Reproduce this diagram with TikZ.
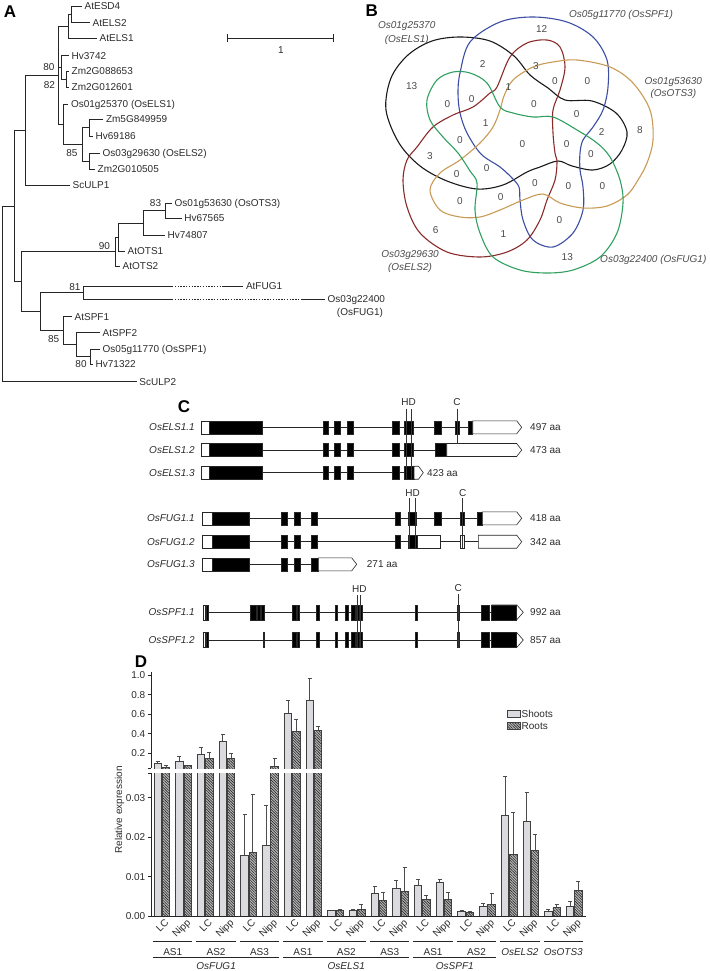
\documentclass[tikz,border=0pt]{standalone}
\usepackage{fontspec}
\setmainfont{Liberation Sans}
\usetikzlibrary{patterns.meta}
\definecolor{txt}{HTML}{2B2B2B}
\definecolor{vlab}{HTML}{4A4A4A}
\definecolor{vblue}{HTML}{3B4EA3}
\definecolor{vred}{HTML}{8A2A2A}
\definecolor{vorange}{HTML}{C99A55}
\definecolor{vgreen}{HTML}{2FA060}
\definecolor{shootc}{HTML}{DADADF}
\definecolor{rootc}{HTML}{B8B8B8}
\newcommand\tleaf[4]{\coordinate (#1) at (#2,#3); \node[anchor=west,xshift=2.5pt] (#1t) at (#1) {#4};}
\def\hh{6.5}
\newcommand\gwb[3]{\draw[gbox,fill=white] (#1,#3-\hh) rectangle (#2,#3+\hh);}
\newcommand\gbb[3]{\draw[gbox,fill=black] (#1,#3-\hh) rectangle (#2,#3+\hh);}
\newcommand\gar[4]{\draw[gbox,fill=white] (#1,#4-\hh) -- (#2,#4-\hh) -- (#3,#4) -- (#2,#4+\hh) -- (#1,#4+\hh) -- cycle;}
\newcommand\pbar[5]{%
\pgfmathsetmacro\pbXa{154+21.7*#1}%
\pgfmathsetmacro\pbXb{\pbXa+7.4}%
\pgfmathsetmacro\pbXc{\pbXa+8.3}%
\pgfmathsetmacro\pbXd{\pbXa+15.7}%
\pgfmathsetmacro\pbXm{\pbXa+3.7}%
\pgfmathsetmacro\pbXn{\pbXa+12}%
\draw[ebar] (\pbXm,#2) -- (\pbXm,#3) (\pbXm-2,#3) -- (\pbXm+2,#3);
\draw[sbar] (\pbXa,916) rectangle (\pbXb,#2);
\draw[ebar] (\pbXn,#4) -- (\pbXn,#5) (\pbXn-2,#5) -- (\pbXn+2,#5);
\fill[rootc] (\pbXc,916) rectangle (\pbXd,#4);
\fill[pattern={Lines[angle=-45,distance=1.9pt,line width=0.6pt]},pattern color=black!85] (\pbXc,916) rectangle (\pbXd,#4);
\draw[sbar,fill=none] (\pbXc,916) rectangle (\pbXd,#4);
}
\begin{document}
\begin{tikzpicture}[x=1pt,y=-1pt,
  every node/.style={font=\fontsize{10}{12}\selectfont,text=txt,inner sep=0pt,text height=7.2pt,text depth=0pt},
  br/.style={draw=black!85,line width=0.8pt},
  dotbr/.style={draw=black!85,line width=0.8pt,dash pattern=on 1.4pt off 1.4pt},
  panel/.style={font=\fontsize{17}{18}\selectfont\bfseries,text=black,text height=12pt},
  venn/.style={line width=1.1pt},
  vnum/.style={text=vlab},
  vname/.style={text=vlab,font=\fontsize{10}{12}\selectfont\itshape},
  intron/.style={draw=black!85,line width=0.7pt},
  gbox/.style={draw=black!85,line width=0.6pt},
  gname/.style={anchor=east,font=\fontsize{10}{12}\selectfont\itshape},
  siteline/.style={draw=black!80,line width=0.7pt},
  sbar/.style={draw=black!75,line width=0.7pt,fill=shootc},
  ebar/.style={draw=black!70,line width=0.8pt},
  axisl/.style={draw=black!85,line width=0.8pt}]
\useasboundingbox (0,0) rectangle (709,971);

% ================= Panel A =================
\node[panel] (pA) at (10,12) {A};
\coordinate (nESD) at (71.7,14.3);
\coordinate (nAt) at (68.3,26.3);
\coordinate (nZm) at (66.7,79.2);
\coordinate (nHv) at (61.7,67.5);
\coordinate (nP1) at (89.3,127.7);
\coordinate (nP2) at (89.3,161.3);
\coordinate (nLow) at (82.7,144.5);
\coordinate (nELS1) at (63.3,124.4);
\coordinate (nMono) at (58.3,75.4);
\coordinate (nScU1) at (25,130.2);
\coordinate (nOTSa) at (165.7,210.8);
\coordinate (nOTSb) at (143.3,222.9);
\coordinate (nOTSc) at (118.3,237);
\coordinate (nOTS) at (115,251.5);
\coordinate (nFUG) at (83.3,292.7);
\coordinate (nSPFc) at (90.7,356.8);
\coordinate (nSPFb) at (76.7,344.8);
\coordinate (nSPF) at (63.3,330.8);
\coordinate (nFS) at (40,311.7);
\coordinate (nOF) at (21.7,281.6);
\coordinate (nBig) at (14,205.9);
\coordinate (nRoot) at (2.7,293.8);

\tleaf{AtESD4}{82}{6}{AtESD4}
\tleaf{AtELS2}{90}{22.7}{AtELS2}
\tleaf{AtELS1}{97}{38.3}{AtELS1}
\tleaf{Hv3742}{69}{55.7}{Hv3742}
\tleaf{ZmA}{69}{71}{Zm2G088653}
\tleaf{ZmB}{69}{87.3}{Zm2G012601}
\tleaf{LOsELS1}{68.3}{104.3}{Os01g25370 (OsELS1)}
\tleaf{ZmC}{103.3}{119.3}{Zm5G849959}
\tleaf{Hv69186}{93}{136}{Hv69186}
\tleaf{LOsELS2}{100}{153.3}{Os03g29630 (OsELS2)}
\tleaf{ZmD}{95}{169.3}{Zm2G010505}
\tleaf{ScULP1}{70}{185}{ScULP1}
\tleaf{LOsOTS3}{172}{203.3}{Os01g53630 (OsOTS3)}
\tleaf{Hv67565}{181.7}{218.3}{Hv67565}
\tleaf{Hv74807}{165}{235}{Hv74807}
\tleaf{AtOTS1}{125}{251}{AtOTS1}
\tleaf{AtOTS2}{120}{266}{AtOTS2}
\tleaf{AtFUG1}{243.3}{286}{AtFUG1}
\tleaf{LOsFUG1}{325}{299.3}{Os03g22400}
\node (LOsFUG1b) at (360,311.7) {(OsFUG1)};
\tleaf{AtSPF1}{72}{316.7}{AtSPF1}
\tleaf{AtSPF2}{100}{332.7}{AtSPF2}
\tleaf{LOsSPF1}{100}{349.3}{Os05g11770 (OsSPF1)}
\tleaf{Hv71322}{93}{364.3}{Hv71322}
\tleaf{ScULP2}{136.7}{381.7}{ScULP2}
\coordinate (fA1) at (172,286);
\coordinate (fA2) at (222,286);
\coordinate (fB1) at (172,299.3);
\coordinate (fB2) at (301.7,299.3);

\foreach \p/\c in {nESD/AtESD4,nESD/AtELS2,nAt/nESD,nAt/AtELS1,nZm/ZmA,nZm/ZmB,
  nHv/Hv3742,nHv/nZm,nP1/ZmC,nP1/Hv69186,nP2/LOsELS2,nP2/ZmD,nLow/nP1,nLow/nP2,
  nELS1/LOsELS1,nELS1/nLow,nMono/nAt,nMono/nHv,nMono/nELS1,nScU1/nMono,nScU1/ScULP1,
  nOTSa/LOsOTS3,nOTSa/Hv67565,nOTSb/nOTSa,nOTSb/Hv74807,nOTSc/nOTSb,nOTSc/AtOTS1,
  nOTS/nOTSc,nOTS/AtOTS2,nFUG/fA1,nFUG/fB1,nSPFc/LOsSPF1,nSPFc/Hv71322,
  nSPFb/AtSPF2,nSPFb/nSPFc,nSPF/AtSPF1,nSPF/nSPFb,nFS/nFUG,nFS/nSPF,
  nOF/nOTS,nOF/nFS,nBig/nScU1,nBig/nOF,nRoot/nBig,nRoot/ScULP2}
  {\draw[br] (\p) |- (\c);}
\draw[dotbr] (fA1) -- (fA2);
\draw[br] (fA2) -- (AtFUG1);
\draw[dotbr] (fB1) -- (fB2);
\draw[br] (fB2) -- (LOsFUG1);

\node (b80a) at (49,66.7) {80};
\node (b82) at (49.5,85) {82};
\node (b85a) at (72,153.3) {85};
\node (b83) at (155.5,203.3) {83};
\node (b90) at (104.5,246) {90};
\node (b81) at (75,286.5) {81};
\node (b85b) at (53.7,339) {85};
\node (b80b) at (81,364.3) {80};

\coordinate (sb1) at (227,38.3);
\coordinate (sb2) at (333,38.3);
\draw[br] (sb1) -- (sb2);
\draw[br] ([yshift=-4pt]sb1) -- ([yshift=4pt]sb1);
\draw[br] ([yshift=-4pt]sb2) -- ([yshift=4pt]sb2);
\node (sbl) at (281,50) {1};

% ================= Panel B =================
\node[panel] (pB) at (371.7,10.7) {B};
\draw[venn,black!90] plot[smooth cycle,tension=0.55] coordinates {
 (386,110) (391,78) (408,55) (432,41) (460,37) (490,41) (514,56) (530,75) (548,88)
 (565,100) (592,101) (616,113) (627,132) (622,150) (610,164) (593,170) (572,166)
 (558,161) (540,167) (527,172) (503,185) (477,189) (447,181) (420,166) (399,143)};
\draw[venn,vblue] plot[smooth cycle,tension=0.55] coordinates {
 (460,73) (470,42) (500,22) (533,17) (567,22) (593,37) (607,60) (608,87) (603,110)
 (593,127) (583,140) (580,153) (580,170) (583,187) (583,210) (573,233) (553,247)
 (533,240) (523,220) (520,200) (519,187) (512,178) (500,167) (481,154) (467,133)
 (460,113) (458,93)};
\draw[venn,vred] plot[smooth cycle,tension=0.55] coordinates {
 (497,87) (510,57) (527,43) (547,40) (560,47) (565,67) (560,90) (553,110) (553,133)
 (555,153) (557,162) (555,180) (547,200) (540,220) (527,240) (507,252) (480,257)
 (447,252) (420,233) (407,207) (403,180) (407,160) (417,147) (433,127) (453,115)
 (473,107) (490,93)};
\draw[venn,vorange] plot[smooth cycle,tension=0.55] coordinates {
 (553,62) (577,60) (610,67) (633,83) (650,110) (653,140) (647,163) (638,180)
 (627,195) (607,206) (583,208) (560,203) (543,194) (523,200) (500,210) (480,217)
 (460,217) (440,210) (430,190) (440,173) (460,160) (480,143) (493,127) (500,110)
 (504,96) (513,80) (533,67)};
\draw[venn,vgreen] plot[smooth cycle,tension=0.55] coordinates {
 (427,100) (437,80) (453,72) (470,73) (487,83) (500,107) (513,113) (533,117)
 (553,117) (577,130) (597,143) (610,157) (620,180) (623,203) (617,233) (600,257)
 (573,270) (547,273) (520,270) (493,257) (480,233) (475,210) (477,183) (470,171)
 (458,153) (443,137) (430,120)};

\node[vname] (vEa) at (406.7,25) {Os01g25370};
\node[vname] (vEb) at (406.7,39) {(OsELS1)};
\node[vname] (vS) at (621,14) {Os05g11770 (OsSPF1)};
\node[vname] (vOa) at (673.3,80.7) {Os01g53630};
\node[vname] (vOb) at (673.3,93.3) {(OsOTS3)};
\node[vname] (vE2a) at (410,254) {Os03g29630};
\node[vname] (vE2b) at (410,266.7) {(OsELS2)};
\node[vname] (vF) at (653.3,259) {Os03g22400 (OsFUG1)};

\foreach \x/\y/\t [count=\k] in {541.7/29.3/12, 482.7/64.3/2, 536/65.7/3, 411.7/86/13,
  508.3/86.7/1, 555/81/0, 587.3/81/0, 447.3/104.3/0, 471.7/98.7/0, 534/104.3/0,
  576.7/114.3/0, 640/130/8, 601.7/132.3/2, 485.7/123.3/1, 460/140/0, 522.3/144/0,
  566.7/144/0, 430/155.7/3, 591/154.3/0, 486.7/168.3/0, 456.7/174/0, 535/182.7/0,
  568.3/186/0, 602.3/186/0, 460/200.7/0, 500.7/196.7/0, 559.3/220/0, 435.7/230/6,
  503.3/234.3/1, 567.3/256.7/13}
  {\node[vnum] (vn\k) at (\x,\y) {\t};}

% ================= Panel C =================
\node[panel] (pC) at (184,406) {C};
% ELS1 rows
\node[gname] (gE1) at (195,427.3) {OsELS1.1};
\node[gname] (gE2) at (195,450) {OsELS1.2};
\node[gname] (gE3) at (195,472.7) {OsELS1.3};
\draw[intron] (201,427.3) -- (473,427.3);
\draw[intron] (201,450) -- (447,450);
\draw[intron] (201,472.7) -- (414,472.7);
\foreach \r in {427.3,450,472.7}{
  \gwb{201}{209}{\r}\gbb{209}{262.3}{\r}\gbb{323.3}{328.7}{\r}\gbb{334.3}{340.7}{\r}
  \gbb{347.3}{353.7}{\r}\gbb{392.7}{399}{\r}}
\gbb{404.3}{413.3}{427.3}\gbb{434.3}{441.7}{427.3}\gbb{455}{459.3}{427.3}\gbb{468.3}{472.7}{427.3}
\gar{472.7}{516.7}{521.7}{427.3}
\gbb{404.3}{413.3}{450}\gbb{435}{446.7}{450}
\gar{446.7}{516.7}{521.7}{450}
\gbb{404.3}{414}{472.7}
\gar{414}{418.5}{423.3}{472.7}
\coordinate (hdE1) at (406,409); \coordinate (hdE1b) at (406,479.2);
\coordinate (hdE2) at (411,409); \coordinate (hdE2b) at (411,479.2);
\coordinate (cE) at (457.3,408.5); \coordinate (cEb) at (457.3,443.5);
\draw[siteline] (hdE1) -- (hdE1b); \draw[siteline] (hdE2) -- (hdE2b); \draw[siteline] (cE) -- (cEb);
\node (hdEl) at (408.5,401.5) {HD};
\node (cEl) at (457,401.5) {C};
\node[anchor=west] (aE1) at (530,427.3) {497 aa};
\node[anchor=west] (aE2) at (530,450) {473 aa};
\node[anchor=west] (aE3) at (427,472.7) {423 aa};
% FUG1 rows
\node[gname] (gF1) at (195,518.3) {OsFUG1.1};
\node[gname] (gF2) at (195,541.7) {OsFUG1.2};
\node[gname] (gF3) at (195,564.3) {OsFUG1.3};
\draw[intron] (202.3,518.3) -- (483,518.3);
\draw[intron] (202.3,541.7) -- (479,541.7);
\draw[intron] (202.3,564.3) -- (319,564.3);
\foreach \r in {518.3,541.7,564.3}{
  \gwb{202.3}{212.7}{\r}\gbb{212.7}{249.3}{\r}\gbb{281.7}{287.3}{\r}\gbb{294}{300}{\r}}
\foreach \r in {518.3,541.7}{\gbb{311}{317.7}{\r}\gbb{395}{400.7}{\r}}
\gbb{408.3}{416.7}{518.3}\gbb{434}{441}{518.3}\gbb{460}{464.3}{518.3}\gbb{477.3}{482.3}{518.3}
\gar{482.3}{516.7}{521.7}{518.3}
\gbb{408.3}{417.3}{541.7}\gwb{417.3}{440.7}{541.7}\gwb{460}{464.3}{541.7}
\gar{478.3}{516.7}{521.7}{541.7}
\gbb{311}{318.3}{564.3}
\gar{318.3}{351.7}{356.7}{564.3}
\coordinate (hdF1) at (409,498.3); \coordinate (hdF1b) at (409,548.2);
\coordinate (hdF2) at (415.3,498.3); \coordinate (hdF2b) at (415.3,548.2);
\coordinate (cF) at (462.7,498.3); \coordinate (cFb) at (462.7,548.2);
\draw[siteline] (hdF1) -- (hdF1b); \draw[siteline] (hdF2) -- (hdF2b); \draw[siteline] (cF) -- (cFb);
\node (hdFl) at (412.5,493) {HD};
\node (cFl) at (462.7,493) {C};
\node[anchor=west] (aF1) at (530,518.3) {418 aa};
\node[anchor=west] (aF2) at (530,541.7) {342 aa};
\node[anchor=west] (aF3) at (366.7,564.3) {271 aa};
% SPF1 rows
\def\hh{7.5}
\node[gname] (gS1) at (195,612.3) {OsSPF1.1};
\node[gname] (gS2) at (195,640) {OsSPF1.2};
\draw[intron] (203.3,612.3) -- (492,612.3);
\draw[intron] (203.3,640) -- (492,640);
\foreach \r in {612.3,640}{
  \gwb{203.3}{205.7}{\r}\gbb{206.3}{208.7}{\r}
  \gbb{292.3}{296}{\r}\gbb{297.3}{299.3}{\r}\gbb{316.7}{319}{\r}\gbb{335.7}{337.7}{\r}
  \gbb{345}{348}{\r}\gbb{351.7}{355.7}{\r}\gbb{356.7}{359}{\r}\gbb{360}{362.7}{\r}
  \gbb{415}{417}{\r}\gbb{457.7}{459.7}{\r}\gbb{481}{489}{\r}
  \gar{491.7}{516.7}{523.3}{\r}\gbb{491.7}{516.7}{\r}}
\gbb{250.7}{256.7}{612.3}\gbb{257.7}{260.7}{612.3}\gbb{261.7}{264}{612.3}
\gbb{263.3}{264.7}{640}
\coordinate (hdS1) at (357.3,595); \coordinate (hdS1b) at (357.3,647.5);
\coordinate (hdS2) at (360.7,595); \coordinate (hdS2b) at (360.7,647.5);
\coordinate (cS) at (458.3,593.5); \coordinate (cSb) at (458.3,647.5);
\draw[siteline] (hdS1) -- (hdS1b); \draw[siteline] (hdS2) -- (hdS2b); \draw[siteline] (cS) -- (cSb);
\node (hdSl) at (359.3,588.5) {HD};
\node (cSl) at (458.3,587.5) {C};
\node[anchor=west] (aS1) at (530,612.3) {992 aa};
\node[anchor=west] (aS2) at (530,640) {857 aa};

% ================= Panel D =================
\node[panel] (pD) at (141,661) {D};
\foreach \i/\a/\b/\c/\d in {0/763.3/761/767.3/765, 1/761/756/765.7/765,
  2/754.3/747.7/758.7/752.7, 3/741/734.3/758/753.3, 4/855.7/814.3/852.7/794,
  5/845.7/805/766.7/758.7, 6/713.3/700/731/719, 7/700.7/678/730/726.7,
  8/910.7/910/910.7/909.3, 9/910/909.3/909.3/904, 10/893.3/886/900/892.7,
  11/888.3/880/891.7/867.7, 12/885.3/879.3/899.3/895, 13/882.7/879.3/899.3/892.7,
  14/911.7/910/912.7/911.7, 15/906.7/903.3/904.3/893.3, 16/815.7/776.7/854.3/812.7,
  17/821.7/792.7/850.7/834, 18/911/909.3/907.3/904.3, 19/906/901.7/890/881.7}
  {\pbar{\i}{\a}{\b}{\c}{\d}}
\fill[white] (148.5,768.6) rectangle (323,772.9);
% axis
\coordinate (ax1) at (151,672);
\coordinate (ax2) at (151,768.3);
\coordinate (ax3) at (151,773.3);
\coordinate (ax0) at (151,916);
\coordinate (axE) at (585.7,916);
\draw[axisl] (ax1) -- (ax2);
\draw[axisl] (ax3) -- (ax0) -- (axE);
\draw[axisl] (148,768.3) -- (ax2);
\draw[axisl] (148,773.3) -- (ax3);
\foreach \y/\t in {674.9/1.0,694.5/0.8,714.1/0.6,733.7/0.4,753.3/0.2,
  797.8/0.03,837.2/0.02,876.6/0.01,916/0.00}
  {\draw[axisl] (147.5,\y) -- (151,\y);
   \node[anchor=east] at (145.5,\y) {\t};}
\node[rotate=90] (ylab) at (118.5,810) {Relative expression};
% legend
\draw[sbar] (507.3,710) rectangle (520.7,717.3);
\node[anchor=west] (lgS) at (521.5,713.6) {Shoots};
\fill[rootc] (507.3,722.3) rectangle (520.7,729.3);
\fill[pattern={Lines[angle=-45,distance=1.9pt,line width=0.6pt]},pattern color=black!85] (507.3,722.3) rectangle (520.7,729.3);
\draw[sbar,fill=none] (507.3,722.3) rectangle (520.7,729.3);
\node[anchor=west] (lgR) at (521.5,725.8) {Roots};
% x labels
\foreach \i in {0,...,19}{
  \pgfmathsetmacro\cx{154+21.7*\i+7.85+5}
  \pgfmathparse{int(mod(\i,2))}
  \ifnum\pgfmathresult=0
    \node[rotate=45,anchor=east] at (\cx,920.5) {LC};
  \else
    \node[rotate=45,anchor=east] at (\cx,920.5) {Nipp};
  \fi}
% group lines
\foreach \i/\j/\t/\s in {0/1/AS1/n,2/3/AS2/n,4/5/AS3/n,6/7/AS1/n,8/9/AS2/n,10/11/AS3/n,
  12/13/AS1/n,14/15/AS2/n,16/17/OsELS2/i,18/19/OsOTS3/i}{
  \pgfmathsetmacro\gxa{154+21.7*\i-1}
  \pgfmathsetmacro\gxb{154+21.7*\j+16.7}
  \pgfmathsetmacro\gxm{(\gxa+\gxb)/2}
  \draw[axisl,line width=0.7pt] (\gxa,941.7) -- (\gxb,941.7);
  \if\s i
    \node[font=\fontsize{10}{12}\selectfont\itshape] at (\gxm,951.5) {\t};
  \else
    \node at (\gxm,951.5) {\t};
  \fi}
\foreach \i/\j/\t in {0/5/OsFUG1,6/11/OsELS1,12/15/OsSPF1}{
  \pgfmathsetmacro\gxa{154+21.7*\i-1}
  \pgfmathsetmacro\gxb{154+21.7*\j+16.7}
  \pgfmathsetmacro\gxm{(\gxa+\gxb)/2}
  \draw[axisl,line width=0.7pt] (\gxa,957.3) -- (\gxb,957.3);
  \node[font=\fontsize{10}{12}\selectfont\itshape] at (\gxm,966.3) {\t};}
\end{tikzpicture}
\end{document}
